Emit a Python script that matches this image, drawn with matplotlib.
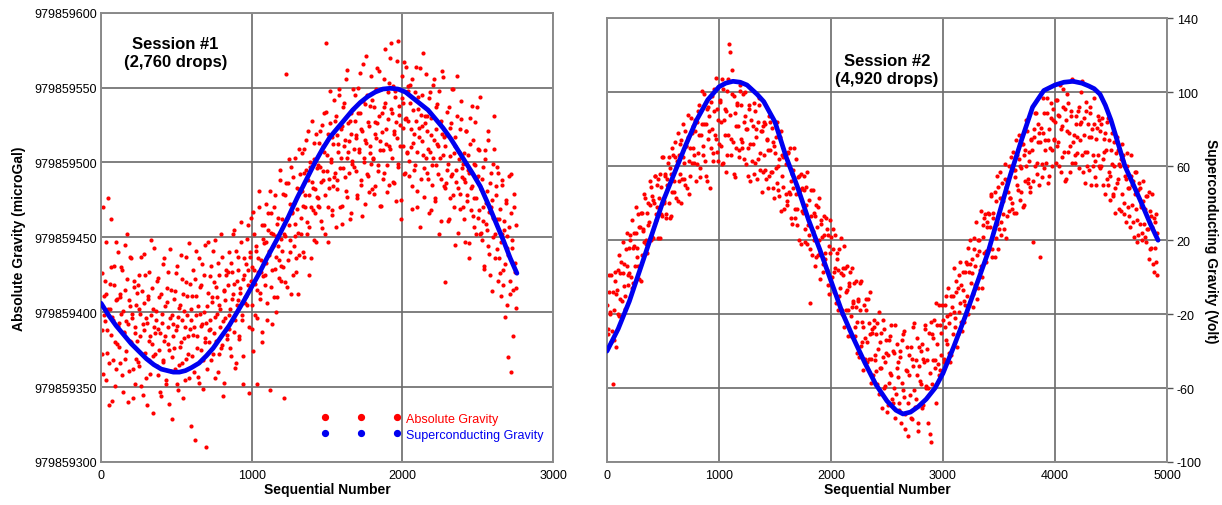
import numpy as np
import matplotlib
matplotlib.use("Agg")
import matplotlib.pyplot as plt
from matplotlib.lines import Line2D

plt.rcParams['font.family'] = ['Liberation Sans', 'DejaVu Sans']
plt.rcParams['axes.unicode_minus'] = False

# ---- data ----
# session 1: absolute gravity in microGal above the base value
# list a = drops 0, 6, 12, ...   list b = drops 3, 9, 15, ...
abs_base = 979859000
abs_gravity_a = [
    405, 372, 470, 398, 421, 355, 412, 388, 476, 366, 402, 430, 341, 395, 418, 380, 447, 362, 409, 391,
    377, 412, 430, 358, 401, 386, 445, 369, 394, 422, 340, 408, 381, 436, 399, 362, 417, 390, 352, 405,
    381, 418, 364, 399, 437, 372, 345, 406, 388, 425, 356, 393, 411, 368, 384, 448, 379, 333, 402, 390,
    372, 395, 421, 358, 410, 386, 344, 399, 432, 367, 381, 404, 352, 416, 390, 375, 442, 361, 398, 329,
    384, 409, 362, 426, 391, 348, 403, 377, 438, 395, 366, 412, 383, 355, 420, 398, 372, 446, 389, 324,
    402, 371, 428, 390, 315, 411, 384, 357, 436, 399, 375, 418, 392, 349, 425, 383, 310, 404, 447, 380,
    395, 424, 368, 410, 441, 386, 356, 417, 399, 433, 372, 405, 390, 452, 378, 344, 414, 396, 425, 382,
    418, 389, 440, 402, 371, 427, 412, 455, 395, 366, 421, 408, 437, 384, 413, 460, 398, 352, 425, 406,
    432, 405, 458, 418, 346, 440, 421, 389, 467, 428, 398, 444, 352, 415, 436, 470, 409, 427, 380, 449,
    446, 418, 472, 433, 395, 455, 441, 348, 466, 428, 452, 410, 478, 437, 400, 459, 444, 423, 488, 431,
    462, 430, 343, 478, 451, 559, 417, 486, 458, 440, 497, 466, 425, 473, 451, 503, 436, 469, 412, 482,
    480, 452, 506, 471, 437, 493, 478, 515, 460, 488, 425, 497, 470, 528, 483, 448, 502, 466, 519, 477,
    498, 470, 521, 487, 456, 511, 494, 533, 478, 580, 505, 447, 489, 526, 500, 468, 517, 484, 542, 493,
    531, 488, 512, 549, 470, 503, 524, 459, 496, 540, 515, 481, 562, 507, 493, 528, 466, 519, 501, 536,
    497, 545, 518, 476, 533, 509, 560, 488, 522, 464, 541, 503, 515, 571, 492, 527, 480, 538, 511, 499,
    542, 503, 479, 527, 516, 563, 494, 531, 508, 471, 549, 520, 489, 537, 576, 512, 498, 529, 485, 553,
    509, 580, 533, 487, 521, 548, 474, 516, 581, 499, 538, 525, 462, 543, 511, 567, 493, 530, 506, 551,
    528, 491, 552, 510, 469, 535, 519, 498, 564, 507, 481, 544, 523, 457, 532, 514, 573, 496, 526, 503,
    493, 531, 509, 466, 547, 518, 485, 503, 556, 474, 522, 498, 539, 511, 452, 526, 489, 561, 505, 517,
    511, 420, 486, 534, 499, 462, 523, 491, 549, 478, 506, 445, 517, 495, 558, 483, 502, 469, 529, 490,
    470, 506, 489, 447, 521, 478, 495, 436, 512, 483, 538, 464, 499, 476, 527, 452, 490, 509, 468, 544,
    482, 448, 497, 461, 429, 508, 473, 455, 521, 439, 486, 470, 414, 499, 463, 531, 452, 478, 442, 493,
    436, 469, 411, 452, 488, 428, 461, 397, 475, 443, 370, 457, 421, 492, 360, 448, 415, 479, 433, 403,
]
abs_gravity_b = [
    388, 426, 359, 411, 394, 447, 373, 402, 338, 419, 385, 462, 397, 368, 431, 351, 408, 379, 440, 393,
    410, 366, 399, 428, 347, 387, 415, 374, 452, 392, 361, 404, 437, 380, 396, 343, 421, 386, 369, 413,
    367, 402, 425, 384, 351, 414, 392, 439, 373, 396, 338, 409, 381, 427, 359, 398, 416, 371, 443, 386,
    401, 364, 389, 423, 375, 347, 412, 393, 368, 436, 384, 355, 407, 379, 427, 339, 396, 415, 370, 392,
    376, 414, 388, 352, 431, 397, 365, 405, 380, 422, 343, 401, 390, 437, 369, 411, 384, 356, 419, 395,
    411, 385, 360, 422, 398, 441, 376, 404, 353, 417, 391, 432, 368, 400, 380, 445, 393, 362, 413, 388,
    389, 431, 407, 372, 420, 397, 448, 381, 410, 360, 425, 402, 376, 437, 394, 415, 353, 408, 428, 385,
    427, 398, 376, 433, 409, 452, 387, 419, 363, 441, 405, 428, 382, 416, 447, 395, 422, 371, 436, 410,
    411, 449, 428, 390, 437, 463, 405, 430, 374, 452, 419, 441, 396, 427, 481, 413, 435, 387, 458, 424,
    458, 425, 447, 406, 466, 438, 481, 417, 453, 392, 444, 470, 429, 451, 410, 463, 435, 495, 421, 449,
    441, 479, 452, 420, 486, 463, 435, 502, 448, 472, 412, 467, 490, 444, 459, 427, 483, 453, 509, 438,
    492, 463, 481, 440, 509, 470, 495, 452, 521, 478, 457, 500, 436, 487, 468, 513, 482, 447, 496, 471,
    476, 513, 497, 461, 525, 488, 507, 452, 534, 494, 470, 519, 483, 548, 502, 465, 512, 490, 528, 457,
    518, 482, 507, 545, 496, 522, 471, 537, 511, 490, 556, 503, 477, 526, 514, 462, 533, 499, 549, 509,
    528, 494, 516, 478, 550, 507, 533, 485, 521, 566, 500, 539, 472, 513, 545, 491, 524, 506, 558, 482,
    502, 537, 519, 484, 549, 526, 498, 561, 514, 471, 533, 508, 556, 493, 540, 522, 480, 547, 511, 570,
    536, 503, 551, 519, 486, 544, 527, 568, 497, 532, 511, 475, 558, 523, 540, 492, 529, 564, 507, 548,
    501, 540, 522, 484, 556, 513, 495, 547, 528, 470, 536, 517, 563, 489, 524, 545, 505, 477, 531, 559,
    521, 489, 543, 507, 468, 530, 498, 552, 515, 476, 537, 512, 492, 548, 503, 461, 528, 519, 557, 484,
    483, 518, 495, 461, 537, 504, 476, 526, 492, 549, 470, 511, 487, 531, 453, 507, 522, 479, 541, 496,
    499, 462, 487, 521, 474, 505, 446, 493, 530, 468, 484, 515, 457, 498, 476, 537, 463, 491, 508, 452,
    453, 489, 470, 431, 502, 459, 481, 444, 515, 467, 425, 493, 475, 450, 509, 436, 484, 462, 497, 421,
    462, 426, 447, 485, 418, 455, 432, 473, 405, 451, 438, 491, 412, 466, 443, 384, 470, 427, 458, 416,
]
# session 1: superconducting gravity (scaled to microGal)
sg1_x = [0, 50, 100, 150, 200, 250, 300, 350, 400, 440, 480, 520, 560, 600, 650, 700, 744,
         800, 850, 903, 950, 1000, 1050, 1100, 1175, 1240, 1300, 1360, 1420, 1470, 1520,
         1570, 1620, 1670, 1720, 1770, 1820, 1870, 1920, 1970, 2020, 2070, 2120, 2170,
         2220, 2270, 2320, 2370, 2420, 2470, 2517, 2570, 2620, 2670, 2716, 2760]
sg1_y = [406, 398, 391, 385, 379, 374, 369, 365, 362, 361, 360, 360, 361, 363, 366, 371, 376,
         384, 391, 400, 408, 417, 426, 436, 450, 463, 476, 488, 500, 509, 517,
         523, 529, 535, 540, 544, 547, 549, 549.5, 549, 547, 543, 539, 535,
         529, 523, 516, 508, 500, 492, 484, 472, 460, 448, 436, 426]

# session 2: absolute gravity scaled to Volt
# list a = drops 0, 10, 20, ...   list b = drops 5, 15, 25, ...
ag2_volt_a = [
    -15, -31, 1, -19, -35, -58, -18, 3, -38, -7, 4, -21, 2, -13, 19, -5, -17, 15, 6, -4,
    2, 23, -6, 16, 24, 6, 38, 16, 6, 27, -2, 35, 25, 19, 43, 18, 35, 28, 52, 20,
    44, 21, 40, 55, 31, 38, 53, 21, 49, 33, 65, 41, 55, 34, 50, 65, 32, 56, 46, 66,
    46, 73, 60, 41, 66, 56, 74, 53, 83, 62, 50, 71, 76, 45, 70, 86, 62, 82, 66, 79,
    84, 67, 93, 59, 77, 101, 66, 83, 55, 91, 75, 87, 48, 95, 80, 67, 102, 75, 91, 63,
    72, 95, 84, 61, 102, 77, 90, 66, 107, 126, 122, 75, 99, 56, 89, 70, 94, 82, 65, 101,
    93, 70, 84, 100, 61, 80, 70, 93, 52, 85, 72, 94, 62, 80, 53, 84, 97, 67, 79, 57,
    66, 83, 53, 75, 69, 55, 84, 57, 73, 43, 67, 76, 51, 60, 44, 79, 55, 65, 37, 66,
    61, 39, 68, 45, 52, 29, 58, 70, 37, 45, 28, 55, 47, 18, 48, 35, 55, 26, 39, 18,
    23, -14, 33, 12, 47, 20, 33, 11, 38, 20, -1, 29, 22, 7, 33, 10, 26, -4, 17, 31,
    22, 0, 26, -8, 5, 10, -18, 15, -6, 2, -20, 5, 17, -18, -7, -32, -5, 3, -21, -16,
    -13, -32, -2, -24, -12, -43, -18, -2, -35, -27, -44, -18, -35, -12, -44, -31, -57, -28, -23, -45,
    -51, -25, -39, -63, -35, -49, -23, -60, -46, -34, -73, -42, -57, -32, -53, -68, -41, -26, -63, -49,
    -46, -72, -40, -57, -31, -65, -82, -50, -38, -68, -53, -76, -44, -27, -61, -70, -45, -33, -83, -48,
    -58, -36, -69, -46, -28, -59, -39, -60, -85, -89, -31, -45, -23, -49, -14, -36, -53, -26, -42, -15,
    -23, -46, -27, -10, -36, -25, -46, -10, -16, -31, 5, -22, -8, -31, 1, -14, -4, -29, 3, -13,
    -15, 7, -20, 3, 20, -3, 10, -9, 21, 6, -12, 20, 14, 4, 36, 0, 22, 32, 14, 30,
    35, 16, 27, 44, 15, 35, 11, 41, 29, 49, 26, 57, 23, 43, 34, 53, 21, 52, 46, 36,
    43, 65, 37, 58, 54, 35, 66, 47, 77, 60, 46, 72, 39, 69, 60, 79, 53, 68, 49, 75,
    19, 80, 60, 89, 56, 73, 78, 11, 54, 78, 89, 69, 62, 97, 74, 55, 86, 69, 91, 74,
    84, 62, 96, 73, 87, 57, 82, 102, 68, 91, 53, 79, 94, 71, 87, 62, 106, 77, 66, 83,
    67, 92, 74, 84, 106, 57, 86, 68, 95, 60, 76, 89, 50, 80, 66, 83, 54, 75, 87, 60,
    79, 60, 86, 50, 68, 78, 53, 86, 57, 42, 69, 61, 45, 73, 48, 76, 53, 37, 60, 64,
    45, 63, 34, 53, 67, 38, 48, 27, 55, 50, 30, 57, 37, 19, 47, 51, 29, 38, 20, 41,
    37, 19, 44, 26, 10, 36, 16, 27, 3, 30, 8, 24,
]
ag2_volt_b = [
    -28, -8, -20, 1, -29, -8, -34, -2, -9, -20, 12, -12, 8, -21, 2, 7, -10, 24, 1, 16,
    20, 0, 31, -3, 17, 24, 11, 34, -1, 27, 35, 12, 26, 45, 20, 13, 40, 30, 39, 49,
    22, 42, 55, 34, 50, 21, 43, 56, 34, 65, 40, 56, 32, 53, 62, 40, 59, 33, 70, 52,
    65, 43, 63, 78, 52, 72, 40, 65, 53, 79, 71, 48, 88, 63, 55, 78, 70, 62, 85, 52,
    61, 90, 77, 54, 83, 71, 99, 63, 83, 52, 92, 79, 70, 98, 63, 90, 77, 108, 68, 85,
    96, 71, 107, 62, 85, 91, 57, 101, 77, 88, 66, 112, 73, 98, 54, 82, 93, 69, 104, 75,
    73, 99, 64, 87, 80, 55, 91, 72, 102, 63, 82, 56, 90, 76, 64, 93, 58, 79, 46, 82,
    84, 58, 74, 48, 87, 69, 57, 81, 48, 71, 59, 84, 47, 64, 76, 36, 66, 49, 67, 45,
    41, 67, 46, 70, 32, 56, 48, 32, 64, 37, 54, 20, 47, 56, 36, 47, 19, 49, 57, 28,
    42, 15, 47, 25, 35, 6, 39, 27, 12, 43, 13, 31, 3, 23, 13, 32, 4, 23, -9, 13,
    -5, 15, 3, 23, -14, 13, 4, -10, 21, -18, 1, -27, 5, -8, 6, -18, -3, -32, 5, -14,
    -3, -27, -16, -41, -13, -3, -37, -24, -50, -15, -33, -12, -46, -25, -8, -44, -30, -53, -27, -42,
    -31, -58, -19, -49, -30, -71, -43, -28, -59, -41, -69, -34, -52, -26, -66, -40, -60, -76, -36, -54,
    -68, -43, -79, -34, -61, -29, -74, -51, -86, -42, -64, -38, -77, -48, -25, -66, -53, -79, -38, -56,
    -40, -71, -44, -26, -60, -45, -79, -30, -52, -24, -58, -33, -45, -68, -26, -47, -15, -50, -30, -52,
    -44, -15, -34, -21, -6, -41, -20, -42, -10, -19, -27, -2, -38, -6, -19, 8, -24, -7, -24, 3,
    8, -10, 16, -15, 7, 2, -16, 15, -4, 30, 12, -6, 20, 6, -6, 28, 13, 34, 8, 27,
    14, 34, 45, 11, 32, 26, 46, 21, 55, 15, 43, 30, 51, 41, 26, 61, 49, 33, 60, 43,
    60, 40, 68, 35, 58, 74, 50, 64, 42, 59, 72, 38, 66, 52, 85, 51, 63, 46, 74, 69,
    52, 76, 89, 62, 83, 50, 73, 81, 61, 97, 59, 74, 89, 51, 80, 70, 94, 60, 85, 75,
    96, 71, 88, 60, 104, 80, 65, 92, 52, 85, 99, 68, 78, 57, 90, 107, 73, 62, 87, 76,
    90, 59, 83, 100, 66, 77, 51, 90, 68, 83, 58, 92, 76, 60, 97, 63, 50, 81, 66, 85,
    59, 83, 64, 75, 45, 69, 84, 50, 74, 55, 78, 44, 60, 35, 67, 51, 69, 61, 36, 72,
    66, 40, 55, 30, 60, 48, 33, 66, 39, 52, 22, 45, 57, 31, 23, 48, 39, 24, 52, 29,
    22, 44, 26, 46, 15, 33, 45, 7, 32, 16, 34, 1,
]
# session 2: superconducting gravity in Volt
sg2_x = [0, 100, 200, 300, 400, 500, 600, 700, 800, 900, 1000, 1060, 1125, 1190, 1250, 1340,
         1400, 1500, 1600, 1700, 1800, 1900, 2000, 2100, 2200, 2300, 2400, 2500, 2580, 2643,
         2710, 2780, 2850, 2929, 3000, 3100, 3200, 3300, 3400, 3500, 3600, 3700, 3800, 3900,
         4000, 4080, 4161, 4240, 4300, 4350, 4402, 4450, 4500, 4560, 4625, 4700, 4780, 4850, 4920]
sg2_y = [-40, -28, -13, 5, 23, 41, 56, 71, 85, 96, 103, 105, 106, 105.5, 104, 99,
         95, 84, 65, 49, 31, 15, -2, -19, -33, -46, -58, -67, -72, -74,
         -73, -70, -66, -60, -52, -37, -21, -4, 13, 34, 55, 74, 92, 101,
         104, 105.5, 106, 105, 103.5, 102, 99, 93, 85, 73, 60, 50, 39, 29, 20]

left_yticks = [979859300, 979859350, 979859400, 979859450, 979859500, 979859550, 979859600]
left_xticks = [0, 1000, 2000, 3000]
right_yticks = [-100, -60, -20, 20, 60, 100, 140]
right_xticks = [0, 1000, 2000, 3000, 4000, 5000]

RED = '#ff0000'
BLUE = '#0000f0'
GRID = '#6a6a6a'

fig = plt.figure(figsize=(12.22, 5.06), dpi=100)
ax1 = fig.add_axes([0.0827, 0.085, 0.3699, 0.888])
ax2 = fig.add_axes([0.4967, 0.085, 0.4583, 0.8765])


def style_axes(ax):
    ax.grid(True, color=GRID, linewidth=1.2)
    ax.set_axisbelow(True)
    for sp in ax.spines.values():
        sp.set_color('#8a8a8a')
        sp.set_linewidth(1.4)
    ax.tick_params(axis='x', length=0, pad=5, labelsize=9)


# --- session 1 ---
drop1_a = np.arange(0, 2760, 6)
drop1_b = np.arange(3, 2760, 6)
for d, v in [(drop1_a, abs_gravity_a), (drop1_b, abs_gravity_b)]:
    ax1.scatter(d, abs_base + np.array(v), s=9, color=RED, linewidths=0, zorder=2)
ax1.plot(sg1_x, abs_base + np.array(sg1_y), color=BLUE, linewidth=3.4, zorder=3,
         solid_capstyle='round', solid_joinstyle='round')
ax1.set_xlim(0, 3000)
ax1.set_ylim(979859300, 979859600)
ax1.set_xticks(left_xticks)
ax1.set_yticks(left_yticks)
ax1.ticklabel_format(axis='y', useOffset=False, style='plain')
style_axes(ax1)
ax1.tick_params(axis='y', length=0, pad=3, labelsize=9)
ax1.set_xlabel('Sequential Number', fontsize=10, fontweight='bold')
ax1.xaxis.set_label_coords(0.5, -0.045)
ax1.set_ylabel('Absolute Gravity (microGal)', fontsize=10, fontweight='bold', va='center')
ax1.yaxis.set_label_coords(-0.1825, 0.5)
ax1.text(0.164, 0.911, 'Session #1\n(2,760 drops)', transform=ax1.transAxes,
         ha='center', va='center', fontsize=12, fontweight='bold', linespacing=1.2)

handles = [Line2D([], [], marker='o', color=RED, linestyle='none', markersize=4.2),
           Line2D([], [], marker='o', color=BLUE, linestyle='none', markersize=4.2)]
leg = ax1.legend(handles, ['Absolute Gravity', 'Superconducting Gravity'],
                 loc='center left', bbox_to_anchor=(0.474, 0.0785), numpoints=3,
                 handlelength=6.3, handletextpad=0.45, labelspacing=0.3,
                 borderpad=0, frameon=False, fontsize=9)
for t, c in zip(leg.get_texts(), [RED, BLUE]):
    t.set_color(c)

# --- session 2 ---
drop2_a = np.arange(0, 4920, 10)
drop2_b = np.arange(5, 4920, 10)
for d, v in [(drop2_a, ag2_volt_a), (drop2_b, ag2_volt_b)]:
    ax2.scatter(d, v, s=9, color=RED, linewidths=0, zorder=2)
ax2.plot(sg2_x, sg2_y, color=BLUE, linewidth=3.4, zorder=3,
         solid_capstyle='round', solid_joinstyle='round')
ax2.set_xlim(0, 5000)
ax2.set_ylim(-100, 140)
ax2.set_xticks(right_xticks)
ax2.set_yticks(right_yticks)
style_axes(ax2)
ax2.yaxis.tick_right()
ax2.tick_params(axis='y', length=4, width=1, color='#555555', pad=3, labelsize=9)
ax2.set_xlabel('Sequential Number', fontsize=10, fontweight='bold')
ax2.xaxis.set_label_coords(0.5, -0.045)
ax2.yaxis.set_label_position('right')
ax2.set_ylabel('Superconducting Gravity (Volt)', fontsize=10, fontweight='bold',
               rotation=270, va='center')
ax2.yaxis.set_label_coords(1.0786, 0.5)
ax2.text(0.5, 0.885, 'Session #2\n(4,920 drops)', transform=ax2.transAxes,
         ha='center', va='center', fontsize=12, fontweight='bold', linespacing=1.2)

fig.savefig('out.png', dpi=100)
